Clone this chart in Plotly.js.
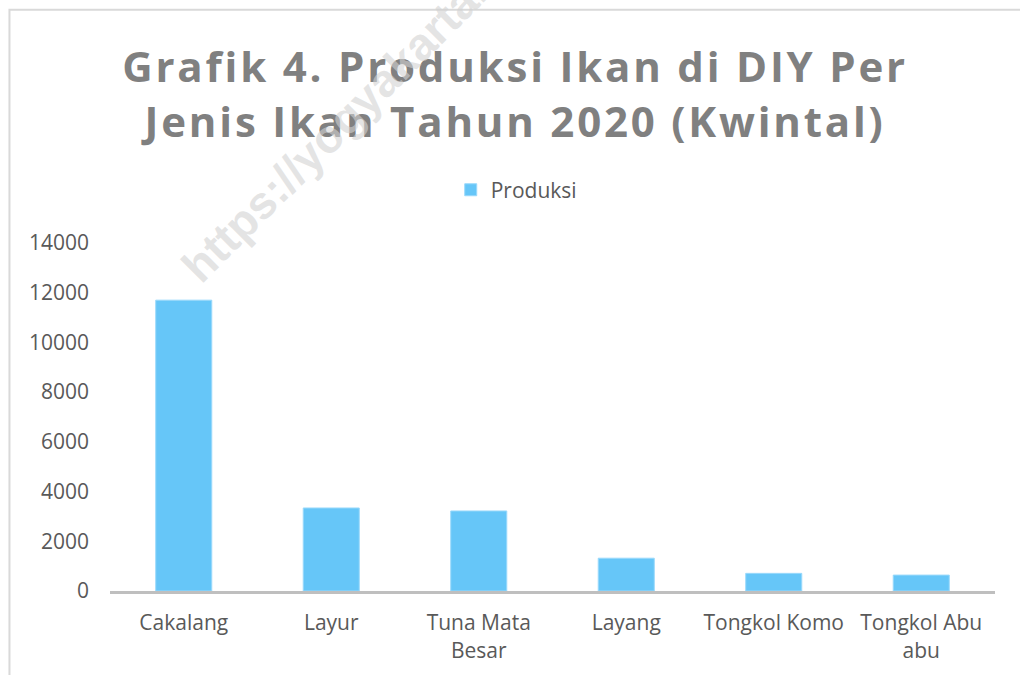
<!DOCTYPE html>
<html>
<head>
<meta charset="utf-8">
<script src="https://cdn.plot.ly/plotly-3.0.1.min.js"></script>
<style>
  html, body { margin: 0; padding: 0; background: #ffffff; }
  #chart { width: 1020px; height: 675px; }
  .gtitle { letter-spacing: 2.8px; }
</style>
</head>
<body>
<div id="chart"></div>
<script>
// Data
const categories = ["Cakalang", "Layur", "Tuna Mata<br>Besar", "Layang", "Tongkol Komo", "Tongkol Abu<br>abu"];
const produksi = [11700, 3340, 3220, 1320, 710, 640];
const seriesName = "Produksi";
const yTicks = [0, 2000, 4000, 6000, 8000, 10000, 12000, 14000];
const chartTitle = "Grafik 4. Produksi Ikan di DIY Per<br>Jenis Ikan Tahun 2020 (Kwintal)";
const watermark = "https://yogyakarta.bps.go.id";

const trace = {
  type: "bar",
  x: categories,
  y: produksi,
  name: seriesName,
  showlegend: true,
  marker: {
    color: "#66c6f8",
    line: { color: "#9ad9fb", width: 1 }
  },
  hoverinfo: "x+y"
};

const layout = {
  width: 1020,
  height: 675,
  paper_bgcolor: "#ffffff",
  plot_bgcolor: "#ffffff",
  margin: { l: 110, r: 25, t: 243, b: 84, pad: 0 },
  font: { family: "Open Sans, Noto Sans, sans-serif", size: 21, color: "#595959" },
  title: {
    text: chartTitle,
    font: { family: "Open Sans, Noto Sans, sans-serif", size: 42, color: "#808080", weight: "bold" },
    x: 0.505,
    xref: "container",
    xanchor: "center",
    y: 0.878,
    yref: "container",
    yanchor: "top"
  },
  bargap: 0.62,
  showlegend: true,
  legend: {
    orientation: "h",
    x: 0.385,
    xanchor: "left",
    y: 1.152,
    yanchor: "middle",
    font: { family: "Open Sans, Noto Sans, sans-serif", size: 21, color: "#595959" },
    bgcolor: "rgba(0,0,0,0)"
  },
  xaxis: {
    type: "category",
    showline: true,
    linecolor: "#bfbfbf",
    linewidth: 3,
    ticks: "",
    showgrid: false,
    zeroline: false,
    ticklabelstandoff: 11,
    tickfont: { family: "Open Sans, Noto Sans, sans-serif", size: 21, color: "#595959" }
  },
  yaxis: {
    range: [0, 14000],
    tickvals: yTicks,
    ticktext: yTicks.map(String),
    showline: false,
    showgrid: false,
    zeroline: false,
    ticks: "",
    ticklabelstandoff: 20,
    tickfont: { family: "Open Sans, Noto Sans, sans-serif", size: 21, color: "#595959" }
  },
  shapes: [
    {
      type: "rect", xref: "paper", yref: "paper",
      x0: -0.1136, x1: 1.2, y0: -0.4, y1: 1.670,
      line: { color: "#d9d9d9", width: 2 },
      fillcolor: "rgba(0,0,0,0)",
      layer: "below"
    }
  ],
  annotations: [
    {
      text: watermark,
      xref: "paper", yref: "paper",
      x: 0.335, y: 1.535,
      xanchor: "center", yanchor: "middle",
      textangle: -45,
      showarrow: false,
      font: { family: "Liberation Sans, Arial, sans-serif", size: 46, color: "rgba(210,210,210,0.6)", weight: "bold" }
    }
  ]
};

Plotly.newPlot("chart", [trace], layout, { displayModeBar: false, staticPlot: true });
</script>
</body>
</html>
